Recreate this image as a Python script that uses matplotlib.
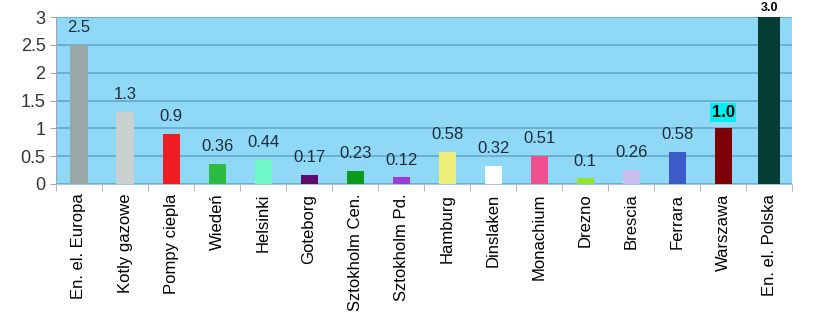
import matplotlib.pyplot as plt
import numpy as np

plt.rcParams['font.family'] = ['Liberation Sans', 'DejaVu Sans']

# Dane
kategorie = ['En. el. Europa', 'Kotly gazowe', 'Pompy ciepla', 'Wiedeń', 'Helsinki',
             'Goteborg', 'Sztokholm Cen.', 'Sztokholm Pd.', 'Hamburg', 'Dinslaken',
             'Monachium', 'Drezno', 'Brescia', 'Ferrara', 'Warszawa', 'En. el. Polska']
wartosci = [2.5, 1.3, 0.9, 0.36, 0.44, 0.17, 0.23, 0.12, 0.58, 0.32,
            0.51, 0.1, 0.26, 0.58, 1.0, 3.0]
etykiety = ['2.5', '1.3', '0.9', '0.36', '0.44', '0.17', '0.23', '0.12', '0.58', '0.32',
            '0.51', '0.1', '0.26', '0.58', '1.0', '3.0']
kolory = ['#97a8a6', '#c9d2d1', '#ef1c24', '#2dbb44', '#6ef8c8', '#5e0a6e',
          '#0a9a1e', '#9a3cdc', '#eef07a', '#ffffff', '#f0508e', '#8ee62a',
          '#cabcee', '#3c5ac8', '#7c0006', '#063c36']

fig = plt.figure(figsize=(8.15, 3.17), dpi=100)
ax = fig.add_axes([0.0687, 0.4196, 0.9033, 0.5264])
ax.set_facecolor('#8fd9f7')

x = np.arange(len(kategorie))
szer = [0.37] * (len(kategorie) - 1) + [0.48]
ax.bar(x, wartosci, width=szer, color=kolory, zorder=3)

# Siatka
ax.set_ylim(0, 3)
ax.set_xlim(-0.5, len(kategorie) - 0.5)
ax.set_yticks([0, 0.5, 1, 1.5, 2, 2.5, 3])
ax.set_yticklabels(['0', '0.5', '1', '1.5', '2', '2.5', '3'], fontsize=13, color='#333333')
ax.yaxis.grid(True, color='#62aac8', linewidth=1.2, zorder=0)
ax.set_axisbelow(True)

for s in ['top', 'right']:
    ax.spines[s].set_visible(False)
ax.spines['left'].set_color('#a0a8ac')
ax.spines['bottom'].set_color('#a8c8d8')

ax.set_xticks(x)
ax.set_xticklabels(kategorie, rotation=90, fontsize=12, color='black')
ax.tick_params(axis='x', length=0, pad=7)
ax.set_xticks(np.arange(len(kategorie) + 1) - 0.5, minor=True)
ax.tick_params(axis='x', which='minor', length=5, color='#a0a8ac')
ax.tick_params(axis='y', length=4, color='#a0a8ac')

# Etykiety wartosci
for i, (w, t) in enumerate(zip(wartosci, etykiety)):
    if i == len(kategorie) - 1:
        ax.annotate(t, (i, w), xytext=(0, 2), textcoords='offset points',
                    ha='center', va='bottom', fontsize=9, fontweight='bold',
                    color='black', annotation_clip=False)
    elif i == len(kategorie) - 2:
        ax.annotate(t, (i, w), xytext=(0, 6), textcoords='offset points',
                    ha='center', va='bottom', fontsize=12, fontweight='bold',
                    color='black',
                    bbox=dict(boxstyle='square,pad=0.1', fc='#00f0f2', ec='none'))
    else:
        ax.annotate(t, (i, w), xytext=(0, 7), textcoords='offset points',
                    ha='center', va='bottom', fontsize=12, color='#1c2c3c')

plt.savefig('out.png', dpi=100)
